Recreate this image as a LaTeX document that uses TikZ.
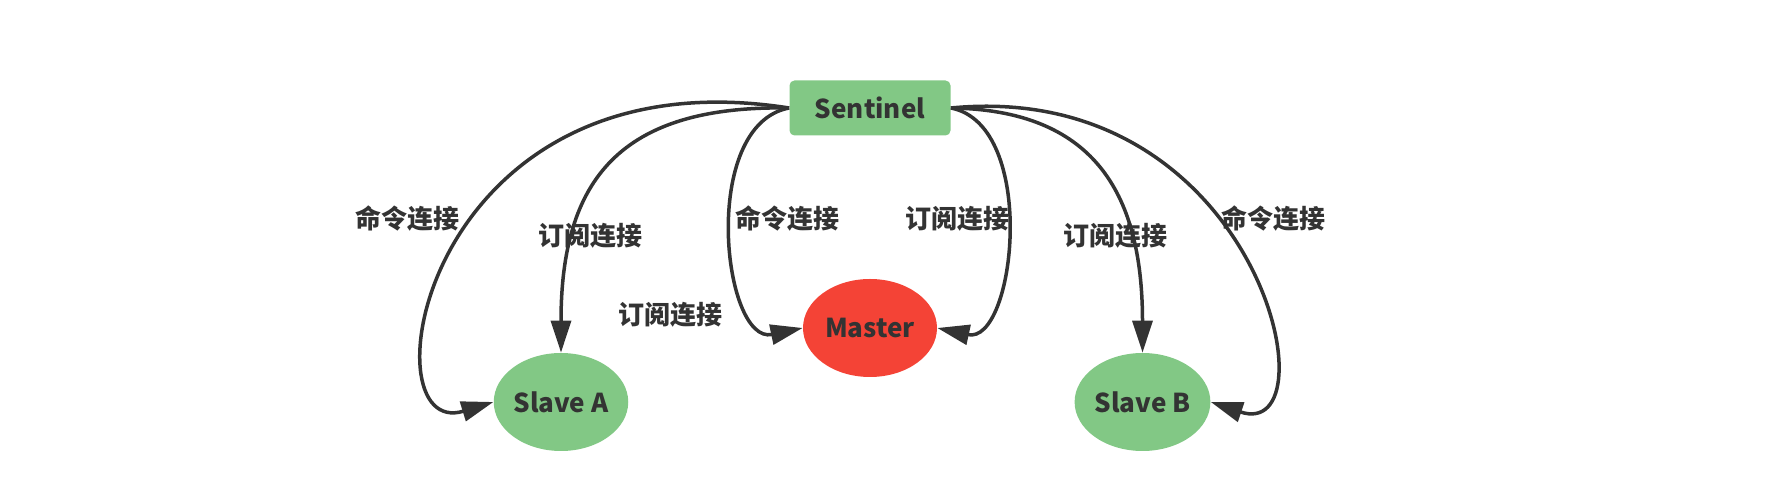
\documentclass[tikz,border=0pt]{standalone}
\usepackage{fontspec}
\setmainfont{Noto Sans CJK SC}
\usetikzlibrary{arrows.meta,shapes.geometric}
\definecolor{inkgray}{RGB}{51,51,51}
\definecolor{softgreen}{RGB}{130,200,133}
\definecolor{alertred}{RGB}{244,67,54}

\begin{document}
\begin{tikzpicture}[x=0.5pt,y=-0.5pt,font=\bfseries\fontsize{13}{15}\selectfont,
  link/.style={-{Triangle[length=16pt,width=10pt]},draw=inkgray,line width=1.75pt},
  sentinelbox/.style={fill=softgreen,rounded corners=2.5pt,text=inkgray,
    minimum width=80.5pt,minimum height=27.5pt,inner sep=0pt},
  server/.style={ellipse,fill=softgreen,text=inkgray,
    minimum width=67pt,minimum height=49pt,inner sep=0pt},
  linktext/.style={text=inkgray,inner sep=0pt}]
\useasboundingbox (0,0) rectangle (1790,485);

% Sentinel on top, master and the two replicas below.
\node[sentinelbox] (sentinel) at (870,108) {Sentinel};
\node[server,fill=alertred] (master) at (870,328) {Master};
\node[server] (slaveA) at (561,402) {Slave A};
\node[server] (slaveB) at (1142.5,402) {Slave B};

% Command and subscribe links leave the sentinel's sides.
\foreach \from/\to/\ax/\ay/\bx/\by in {
    sentinel.west/slaveA.west/-369/-58/-130/40,
    sentinel.west/slaveA.north/-169/-3/0/-173,
    sentinel.west/master.west/-90/17/-80/17,
    sentinel.east/master.east/88/17/78/17,
    sentinel.east/slaveB.north/140/2/0/-163,
    sentinel.east/slaveB.east/310/-30/125/42}
  \draw[link] (\from) .. controls +(\ax,\ay) and +(\bx,\by) .. (\to);

\node[linktext] (cmdA) at (407.7,218.3) {命令连接};
\node[linktext] (subA) at (590,235.7) {订阅连接};
\node[linktext] (subLow) at (670.6,315) {订阅连接};
\node[linktext] (cmdM) at (787,218.3) {命令连接};
\node[linktext] (subM) at (957.3,218.3) {订阅连接};
\node[linktext] (subB) at (1115,235.7) {订阅连接};
\node[linktext] (cmdB) at (1273.3,218.3) {命令连接};
\end{tikzpicture}
\end{document}
